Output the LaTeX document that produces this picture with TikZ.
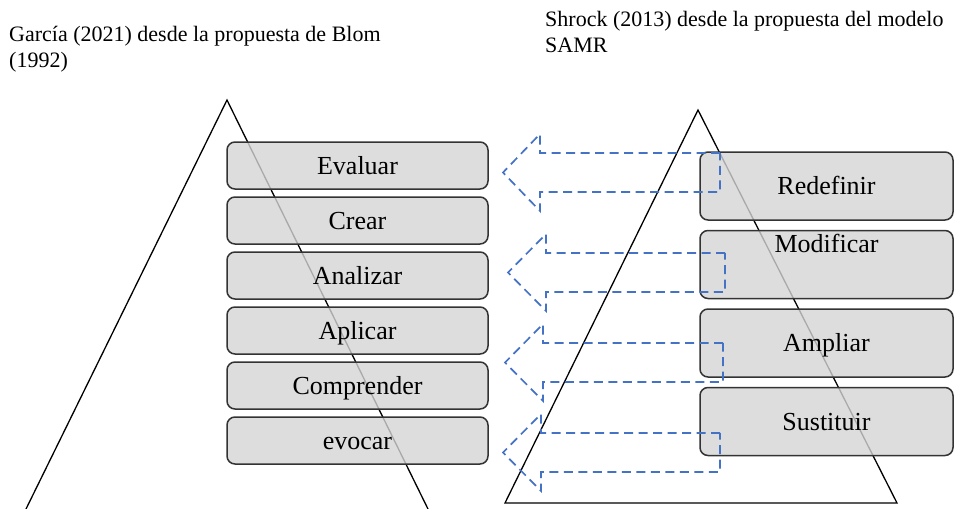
\documentclass[tikz,border=0pt]{standalone}
\usepackage{fontspec}
\setmainfont{Liberation Serif}
\usetikzlibrary{positioning}
\definecolor{cajagris}{HTML}{D4D4D4}
\definecolor{bordegris}{HTML}{333333}
\definecolor{flechaazul}{HTML}{4472C4}

\begin{document}
\begin{tikzpicture}[x=1pt, y=-1pt,
    bloom/.style={draw=bordegris, line width=1.5pt, rounded corners=8pt,
      fill=cajagris, fill opacity=0.8, text opacity=1, inner sep=0pt,
      minimum width=261pt, minimum height=47pt, text height=17pt, text depth=0pt,
      font=\fontsize{26}{30}\selectfont},
    samr/.style={bloom, minimum width=253pt, minimum height=68pt},
    titulo/.style={anchor=base west, align=left, inner sep=0pt,
      font=\fontsize{22}{26}\selectfont},
    flecha/.style={draw=flechaazul, line width=1.7pt, dash pattern=on 9pt off 5.5pt}]
  \useasboundingbox (0,0) rectangle (954,509);

  % titulos
  \node[titulo] (garcia) at (9,67) {García (2021) desde la propuesta de Blom\\(1992)};
  \node[titulo] (shrock) at (545,52) {Shrock (2013) desde la propuesta del modelo\\SAMR};

  % piramides
  \draw[line width=1.3pt] (26,509) -- (227,100) -- (428,509);
  \draw[line width=1.3pt] (505,503) -- (698,110) -- (897,503) -- cycle;

  % Bloom
  \node[bloom] (evaluar) at (357.5,165.5) {Evaluar};
  \node[bloom, below=6.5pt of evaluar] (crear) {Crear};
  \node[bloom, below=6.5pt of crear] (analizar) {Analizar};
  \node[bloom, below=6.5pt of analizar] (aplicar) {Aplicar};
  \node[bloom, below=6.5pt of aplicar] (comprender) {Comprender};
  \node[bloom, below=6.5pt of comprender] (evocar) {evocar};

  % SAMR
  \node[samr] (redefinir) at (826.5,186) {Redefinir};
  \node[samr, below=9pt of redefinir, text depth=41pt] (modificar) {Modificar};
  \node[samr, below=9pt of modificar] (ampliar) {Ampliar};
  \node[samr, below=9pt of ampliar] (sustituir) {Sustituir};

  % flechas
  \foreach \ys/\yi/\xc/\xp/\xd in {153/192/540/503/720, 253/292/546/508/725,
      343/382/543/505/723, 433/472/541/503/720}
    \draw[flecha] (\xd,\ys) -- (\xc,\ys) -- (\xc,\ys-19) -- (\xp,{(\ys+\yi)/2})
      -- (\xc,\yi+19) -- (\xc,\yi) -- (\xd,\yi) -- cycle;
\end{tikzpicture}
\end{document}
